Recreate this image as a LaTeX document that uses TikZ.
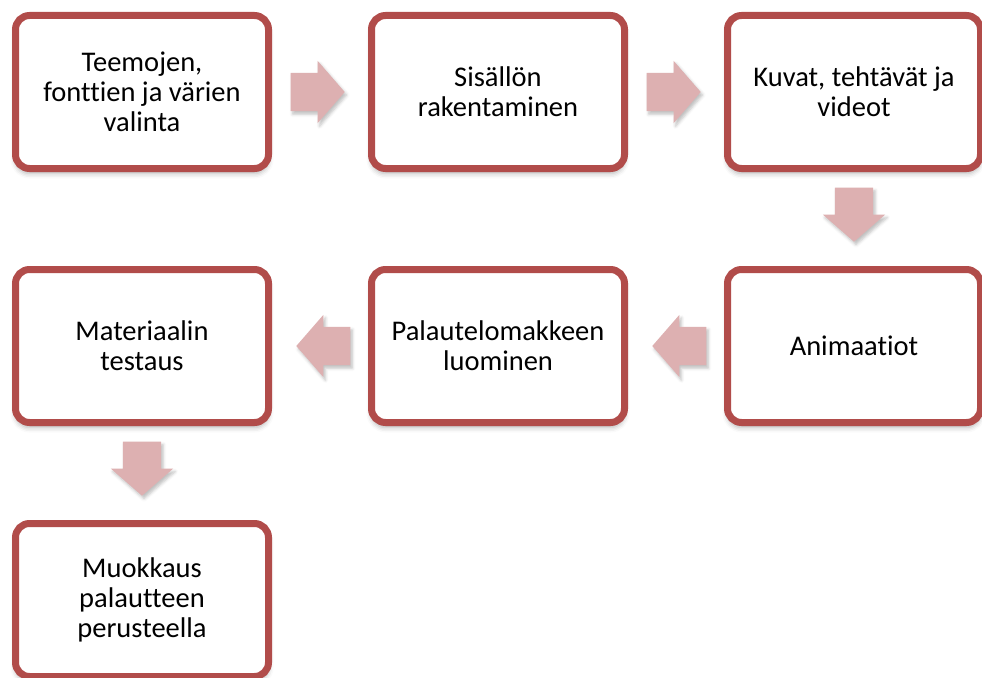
\documentclass[tikz,border=0pt]{standalone}
\usepackage{fontspec}
\setmainfont{Carlito}[Ligatures=NoCommon]
\usepackage{tikz}
\usetikzlibrary{shapes.arrows,shadows.blur,calc}
\definecolor{boxred}{HTML}{B14C4A}
\definecolor{arrowpink}{HTML}{DDB0B1}

\begin{document}
\begin{tikzpicture}[x=1pt,y=-1pt,
  box/.style={draw=boxred,line width=7pt,rounded corners=14pt,fill=white,
    minimum width=253pt,minimum height=153pt,outer sep=0pt,align=center,
    font=\fontsize{28.5}{30}\selectfont,
    blur shadow={shadow xshift=0pt,shadow yshift=-5pt,shadow blur radius=5pt,shadow opacity=30}},
  flowarrow/.style={single arrow,fill=arrowpink,draw=none,minimum height=54pt,anchor=tail,
    inner xsep=0pt,inner ysep=19pt,single arrow head extend=12pt,single arrow tip angle=98,
    blur shadow={shadow xshift=2pt,shadow yshift=-3pt,shadow blur radius=3pt,shadow opacity=25}}]
\useasboundingbox (0,0) rectangle (982,677);
% rivi 1
\node[box] (teemat) at (142,92) {Teemojen,\\fonttien ja värien\\valinta};
\node[box] (sisalto) at (498,92) {Sisällön\\rakentaminen};
\node[box] (kuvat) at (854,92) {Kuvat, tehtävät ja\\videot};
% rivi 2
\node[box] (animaatiot) at (854,346) {Animaatiot};
\node[box] (palaute) at (498,346) {Palautelomakkeen\\luominen};
\node[box] (testaus) at (142,346) {Materiaalin\\testaus};
% rivi 3
\node[box] (muokkaus) at (142,600) {Muokkaus\\palautteen\\perusteella};
% nuolet
\node[flowarrow] (n1) at ($(teemat.east)+(22,0)$) {};
\node[flowarrow] (n2) at ($(sisalto.east)+(22,0)$) {};
\node[flowarrow,rotate=-90] (n3) at ($(kuvat.south)+(0,19)$) {};
\node[flowarrow,rotate=180] (n4) at ($(animaatiot.west)+(-21,0)$) {};
\node[flowarrow,rotate=180] (n5) at ($(palaute.west)+(-21,0)$) {};
\node[flowarrow,rotate=-90] (n6) at ($(testaus.south)+(0,19)$) {};
\end{tikzpicture}
\end{document}
